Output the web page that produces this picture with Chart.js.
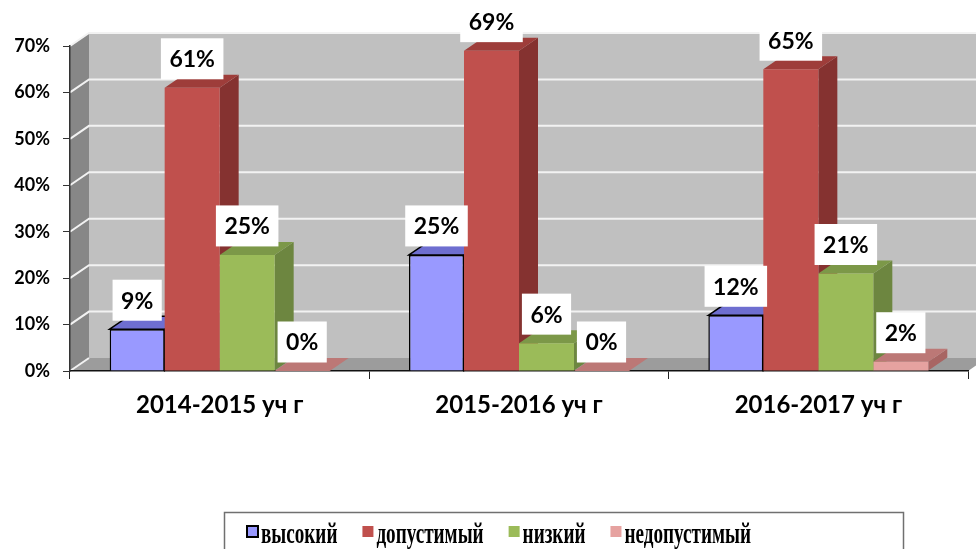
<!DOCTYPE html>
<html lang="ru">
<head>
  <meta charset="UTF-8">
  <title>Уровни</title>
  <script src="https://cdn.jsdelivr.net/npm/chart.js"></script>
  <style>
    body { margin: 0; background: #fff; }
    #wrap { width: 976px; height: 549px; }
  </style>
</head>
<body>
  <div id="wrap"><canvas id="levelsChart" width="976" height="549"></canvas></div>
  <script>
    const categories = ['2014-2015 уч г', '2015-2016 уч г', '2016-2017 уч г'];
    const seriesNames = ['высокий', 'допустимый', 'низкий', 'недопустимый'];
    const highVals = [9, 25, 12];
    const acceptableVals = [61, 69, 65];
    const lowVals = [25, 6, 21];
    const unacceptableVals = [0, 0, 2];
    const yTickValues = [0, 10, 20, 30, 40, 50, 60, 70];

    // 3d look: depth offset of walls and bars
    const DX = 19, DY = -13;

    const palette = [
      { front: '#9999FF', top: '#6E6ED0', side: '#5E5EB4', border: '#000' },
      { front: '#C0504D', top: '#9E3D3A', side: '#853230' },
      { front: '#9BBB59', top: '#7C9848', side: '#6D8640' },
      { front: '#E6A2A0', top: '#BC7876', side: '#A86563' }
    ];

    function poly(ctx, pts, fill, stroke) {
      ctx.beginPath();
      ctx.moveTo(pts[0][0], pts[0][1]);
      for (let i = 1; i < pts.length; i++) ctx.lineTo(pts[i][0], pts[i][1]);
      ctx.closePath();
      ctx.fillStyle = fill;
      ctx.fill();
      if (stroke) {
        ctx.lineWidth = 1.5;
        ctx.strokeStyle = stroke;
        ctx.stroke();
      }
    }

    const wallsPlugin = {
      id: 'walls',
      beforeDraw(chart) {
        const { ctx, chartArea: a, scales: { y } } = chart;
        const L = a.left, R = a.right, T = a.top, B = a.bottom;
        ctx.save();
        // back wall
        ctx.fillStyle = '#C0C0C0';
        ctx.fillRect(L + DX, T + DY, chart.width - L - DX, B - T);
        // left wall
        poly(ctx, [[L, T], [L + DX, T + DY], [L + DX, B + DY], [L, B]], '#878787');
        // floor
        poly(ctx, [[L, B], [L + DX, B + DY], [R + DX, B + DY], [R, B]], '#9C9C9C');
        // gridlines
        ctx.strokeStyle = '#F2F2F2';
        ctx.lineWidth = 2;
        yTickValues.forEach(v => {
          const yf = y.getPixelForValue(v);
          ctx.beginPath();
          ctx.moveTo(L, yf);
          ctx.lineTo(L + DX, yf + DY);
          if (v > 0) ctx.lineTo(chart.width, yf + DY);
          ctx.stroke();
        });
        ctx.restore();
      },
      beforeDatasetsDraw(chart) {
        const ctx = chart.ctx;
        ctx.save();
        chart.data.datasets.forEach((ds, i) => {
          const c = palette[i];
          chart.getDatasetMeta(i).data.forEach(bar => {
            const { x, y, base, width } = bar.getProps(['x', 'y', 'base', 'width'], true);
            const l = x - width / 2, r = x + width / 2;
            poly(ctx, [[r, y], [r + DX, y + DY], [r + DX, base + DY], [r, base]], c.side, c.border);
            poly(ctx, [[l, y], [l + DX, y + DY], [r + DX, y + DY], [r, y]], c.top, c.border);
          });
        });
        ctx.restore();
      },
      afterDatasetsDraw(chart) {
        const ctx = chart.ctx;
        ctx.save();
        ctx.font = 'bold 23px Lato';
        ctx.textAlign = 'center';
        ctx.textBaseline = 'middle';
        chart.data.datasets.forEach((ds, i) => {
          chart.getDatasetMeta(i).data.forEach((bar, j) => {
            const txt = ds.data[j] + '%';
            const w = ctx.measureText(txt).width + 17;
            const cy = bar.y - 29;
            ctx.fillStyle = '#fff';
            ctx.fillRect(bar.x - w / 2, cy - 20.5, w, 41);
            ctx.fillStyle = '#000';
            ctx.fillText(txt, bar.x, cy + 1);
          });
        });
        ctx.restore();
      },
      afterDraw(chart) {
        const ctx = chart.ctx;
        ctx.save();
        ctx.strokeStyle = '#707070';
        ctx.lineWidth = 1.5;
        ctx.strokeRect(224.5, 512.5, 679, 60);
        const sx = 0.66;
        ctx.font = 'bold 29px "Liberation Serif"';
        ctx.textBaseline = 'alphabetic';
        ctx.textAlign = 'left';
        let x = 247;
        chart.data.datasets.forEach((ds, i) => {
          const c = palette[i];
          ctx.fillStyle = c.front;
          ctx.fillRect(x, 526, 11, 11);
          if (c.border) {
            ctx.strokeStyle = '#000';
            ctx.lineWidth = 2;
            ctx.strokeRect(x, 526, 11, 11);
          }
          x += 14;
          const tw = ctx.measureText(ds.label).width * sx;
          ctx.save();
          ctx.translate(x, 543);
          ctx.scale(sx, 1);
          ctx.fillStyle = '#000';
          ctx.fillText(ds.label, 0, 0);
          ctx.restore();
          x += tw + 25;
        });
        ctx.restore();
      }
    };

    const seriesData = [highVals, acceptableVals, lowVals, unacceptableVals];

    new Chart(document.getElementById('levelsChart'), {
      type: 'bar',
      data: {
        labels: categories,
        datasets: seriesNames.map((name, i) => ({
          label: name,
          data: seriesData[i],
          backgroundColor: palette[i].front,
          borderColor: palette[i].border || palette[i].front,
          borderWidth: palette[i].border ? 1.5 : 0,
          categoryPercentage: 0.735,
          barPercentage: 1
        }))
      },
      options: {
        responsive: false,
        animation: false,
        layout: { padding: { top: 46, right: 8, left: 0, bottom: 0 } },
        plugins: {
          legend: { display: false },
          tooltip: { enabled: false }
        },
        scales: {
          x: {
            afterFit: s => { s.height = 178; },
            grid: { drawOnChartArea: false, offset: true, tickLength: 8, color: '#222' },
            border: { color: '#111', width: 1.5 },
            ticks: { color: '#000', padding: 12, font: { family: 'Lato', size: 24, weight: 'bold' } }
          },
          y: {
            min: 0,
            max: 70,
            afterFit: s => { s.width = 70; },
            afterBuildTicks: s => { s.ticks = yTickValues.map(v => ({ value: v })); },
            grid: { drawOnChartArea: false, tickLength: 7, color: '#333' },
            border: { color: '#333', width: 1.5 },
            ticks: {
              color: '#000',
              padding: 13,
              font: { family: 'Lato', size: 18, weight: 'bold' },
              callback: v => v + '%'
            }
          }
        }
      },
      plugins: [wallsPlugin]
    });
  </script>
</body>
</html>
